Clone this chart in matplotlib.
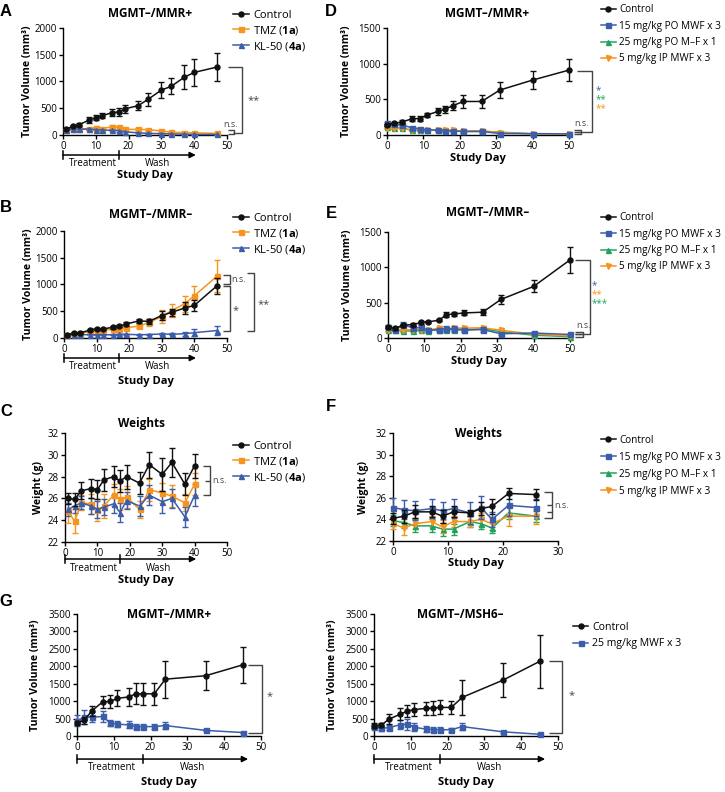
import numpy as np
import matplotlib
matplotlib.use('Agg')
import matplotlib.pyplot as plt
from matplotlib.lines import Line2D

plt.rcParams['font.family'] = ['Open Sans', 'DejaVu Sans']
plt.rcParams['mathtext.fontset'] = 'custom'
plt.rcParams['mathtext.bf'] = 'Open Sans:bold'
plt.rcParams['mathtext.rm'] = 'Open Sans'

BLACK = '#111111'
ORANGE = '#F7941D'
BLUE = '#3C5DAA'
GREEN = '#1FA35C'
GREY = '#444444'

# ---------------- data ----------------
# A / B / C: KL-50 vs TMZ
days_abc = [1, 3, 5, 8, 10, 12, 15, 17, 19, 23, 26, 30, 33, 37, 40, 47]

a_ctrl = [110, 165, 195, 280, 320, 360, 420, 430, 490, 550, 670, 840, 910, 1080, 1170, 1270]
a_ctrl_err = [20, 20, 20, 50, 45, 50, 60, 70, 70, 90, 120, 150, 150, 220, 250, 260]
a_tmz = [100, 110, 110, 120, 135, 120, 155, 145, 105, 105, 100, 75, 50, 45, 40, 30]
a_tmz_err = [15, 15, 15, 20, 20, 20, 25, 25, 20, 20, 20, 15, 10, 10, 10, 10]
a_kl = [100, 110, 110, 110, 100, 90, 90, 80, 60, 40, 30, 25, 20, 15, 10, 10]
a_kl_err = [15, 15, 15, 15, 15, 15, 15, 15, 10, 10, 10, 8, 8, 5, 5, 5]

b_ctrl = [60, 90, 95, 150, 175, 170, 200, 225, 260, 320, 310, 420, 480, 560, 610, 980]
b_ctrl_err = [15, 15, 15, 20, 20, 20, 25, 25, 30, 40, 50, 80, 70, 110, 100, 150]
b_tmz = [55, 80, 90, 120, 140, 140, 170, 175, 195, 220, 290, 400, 510, 640, 790, 1160]
b_tmz_err = [15, 15, 15, 20, 20, 20, 25, 25, 30, 40, 60, 120, 120, 150, 190, 300]
b_kl = [60, 65, 65, 60, 60, 60, 60, 70, 70, 60, 65, 75, 70, 80, 100, 140]
b_kl_err = [10, 10, 10, 10, 10, 10, 10, 10, 10, 10, 10, 20, 15, 40, 70, 90]

days_c = [1, 3, 5, 8, 10, 12, 15, 17, 19, 23, 26, 30, 33, 37, 40]
c_ctrl = [26.0, 25.9, 26.7, 26.9, 26.8, 27.7, 28.0, 27.6, 28.0, 27.4, 29.1, 28.2, 29.3, 27.3, 29.0]
c_ctrl_err = [0.5, 0.6, 0.8, 0.9, 0.9, 1.0, 1.0, 1.0, 1.1, 1.0, 1.2, 1.5, 1.3, 1.0, 1.1]
c_tmz = [24.8, 23.9, 25.6, 25.5, 24.9, 25.3, 26.3, 25.9, 26.1, 25.0, 26.8, 26.5, 26.2, 25.6, 27.3]
c_tmz_err = [1.1, 1.1, 0.7, 0.9, 1.0, 1.1, 1.0, 1.0, 1.0, 0.8, 1.0, 0.9, 1.0, 0.8, 1.0]
c_kl = [25.0, 25.3, 25.6, 25.3, 25.0, 25.2, 25.5, 24.7, 25.8, 25.3, 26.3, 25.7, 26.0, 24.3, 26.3]
c_kl_err = [0.6, 0.6, 0.6, 0.7, 0.8, 0.7, 0.8, 0.9, 0.8, 0.9, 0.9, 1.0, 0.9, 0.9, 1.0]

# D / E / F: dosing schedules
days_def = [0, 2, 4, 7, 9, 11, 14, 16, 18, 21, 26, 31, 40, 50]
d_ctrl = [140, 165, 180, 230, 230, 280, 330, 360, 410, 470, 470, 630, 770, 910]
d_ctrl_err = [20, 20, 25, 40, 40, 30, 50, 50, 60, 90, 90, 110, 130, 150]
d_po15 = [170, 150, 140, 100, 90, 70, 70, 60, 55, 50, 50, 20, 20, 15]
d_po25 = [110, 100, 95, 65, 65, 70, 70, 65, 60, 50, 50, 40, 15, 10]
d_ip5 = [100, 95, 95, 70, 70, 70, 70, 70, 65, 55, 60, 35, 15, 10]

e_ctrl = [150, 135, 180, 190, 220, 230, 250, 330, 340, 355, 365, 545, 730, 1105]
e_ctrl_err = [15, 15, 20, 20, 15, 15, 15, 35, 30, 35, 40, 70, 85, 180]
e_po15 = [160, 120, 190, 140, 150, 110, 120, 130, 130, 110, 120, 60, 70, 50]
e_po15_err = [20, 15, 40, 30, 40, 20, 20, 40, 40, 30, 40, 15, 20, 10]
e_po25 = [110, 110, 100, 100, 110, 100, 120, 120, 115, 120, 130, 90, 40, 20]
e_ip5 = [120, 115, 110, 120, 120, 110, 140, 130, 140, 140, 145, 110, 55, 30]

days_f = [0, 2, 4, 7, 9, 11, 14, 16, 18, 21, 26]
f_ctrl = [24.1, 24.3, 24.7, 24.7, 24.3, 24.7, 24.6, 25.0, 25.2, 26.4, 26.3]
f_ctrl_err = [0.5, 0.6, 0.6, 0.5, 0.6, 0.5, 0.3, 0.6, 0.7, 0.5, 0.5]
f_po15 = [25.1, 24.9, 24.8, 25.0, 24.8, 25.0, 24.6, 25.1, 24.0, 25.3, 25.1]
f_po15_err = [0.9, 0.9, 0.9, 0.9, 0.8, 0.9, 1.0, 1.1, 0.7, 1.0, 0.8]
f_po25 = [23.9, 23.7, 23.4, 23.4, 23.1, 23.1, 23.8, 23.6, 23.2, 24.6, 24.3]
f_po25_err = [0.5, 0.5, 0.6, 0.6, 0.6, 0.5, 0.5, 0.5, 0.5, 0.6, 0.5]
f_ip5 = [23.6, 23.2, 23.6, 23.8, 23.3, 23.8, 23.8, 24.0, 23.6, 24.3, 24.3]
f_ip5_err = [0.5, 0.6, 0.5, 0.5, 0.6, 0.5, 0.5, 0.6, 0.6, 0.9, 0.7]

# G: PDX models
days_g = [0, 2, 4, 7, 9, 11, 14, 16, 18, 21, 24, 35, 45]
g1_ctrl = [370, 450, 720, 980, 990, 1080, 1120, 1210, 1210, 1210, 1630, 1730, 2040]
g1_ctrl_err = [60, 100, 150, 180, 200, 230, 270, 300, 310, 310, 530, 410, 510]
g1_kl = [440, 540, 540, 560, 370, 340, 320, 270, 270, 270, 300, 160, 100]
g1_kl_err = [150, 200, 150, 150, 90, 90, 100, 80, 70, 80, 100, 30, 20]
g2_ctrl = [300, 310, 480, 620, 710, 760, 790, 800, 820, 820, 1110, 1600, 2140]
g2_ctrl_err = [60, 60, 150, 170, 170, 180, 180, 190, 200, 180, 500, 490, 760]
g2_kl = [270, 220, 240, 320, 340, 250, 200, 180, 180, 180, 270, 120, 50]
g2_kl_err = [80, 70, 80, 130, 160, 110, 80, 70, 70, 60, 110, 20, 15]

# ---------------- figure ----------------
W, H = 725, 792
fig = plt.figure(figsize=(W / 100, H / 100), dpi=100)


def make_ax(x0, x1, y0, y1):
    # pixel box -> figure fraction
    ax = fig.add_axes([x0 / W, 1 - y1 / H, (x1 - x0) / W, (y1 - y0) / H])
    ax.spines['top'].set_visible(False)
    ax.spines['right'].set_visible(False)
    for s in ['left', 'bottom']:
        ax.spines[s].set_linewidth(1.0)
    ax.tick_params(labelsize=7, length=3, width=1, pad=1.5)
    return ax


def series(ax, x, y, err, color, marker, label, ms=3.6, z=3):
    ax.errorbar(x, y, yerr=err, color=color, marker=marker, ms=ms, lw=1.1,
                capsize=2.5, elinewidth=1, capthick=1, clip_on=False, zorder=z)
    # legend proxy: line + marker only
    return Line2D([], [], color=color, marker=marker, ms=ms, lw=1.1, label=label)


def legend(ax, handles, px, py, fs=8, sp=0.25):
    ax.legend(handles=handles, loc='upper left',
              bbox_to_anchor=(px / W, 1 - (py - 6) / H),
              bbox_transform=fig.transFigure, frameon=False, fontsize=fs,
              borderpad=0, borderaxespad=0, handlelength=1.45,
              handletextpad=0.35, labelspacing=sp)


def labels(ax, title, tx, ty, ylab, yx, xlab_y):
    ax.text(tx, ty, title, transform=ax.transAxes, ha='center', va='center',
            fontsize=8.5, fontweight='bold')
    ax.text(yx, 0.5, ylab, transform=ax.transAxes, rotation=90, ha='center',
            va='center', fontsize=7.6, fontweight='bold')
    ax.text(0.5, xlab_y, 'Study Day', transform=ax.transAxes, ha='center',
            va='center', fontsize=8, fontweight='bold')


def timeline(ax, yline, ytext, xdiv, xend, xtreat, xwash):
    tr = ax.get_xaxis_transform()
    ax.annotate('', xy=(xend, yline), xytext=(0, yline), xycoords=tr,
                textcoords=tr, annotation_clip=False,
                arrowprops=dict(arrowstyle='-|>', color='black', lw=1.1,
                                shrinkA=0, shrinkB=0, mutation_scale=9))
    for xv in [0, xdiv]:
        ax.plot([xv, xv], [yline - 0.035, yline + 0.035], color='black', lw=1.1,
                transform=tr, clip_on=False)
    ax.text(xtreat, ytext, 'Treatment', transform=tr, ha='center', va='center', fontsize=7)
    ax.text(xwash, ytext, 'Wash', transform=tr, ha='center', va='center', fontsize=7)


def path(ax, xs, ys, color=GREY):
    ax.plot(xs, ys, color=color, lw=1.0, clip_on=False, solid_capstyle='butt')


def star(ax, x, y, s, color=GREY, size=8):
    ax.text(x, y, s, ha='left', va='center', fontsize=size, color=color,
            linespacing=1.0)


lab_tmz = 'TMZ ($\\bf{1a}$)'
lab_kl = 'KL-50 ($\\bf{4a}$)'
lab15 = '15 mg/kg PO MWF x 3'
lab25 = '25 mg/kg PO M\u2013F x 1'
lab5 = '5 mg/kg IP MWF x 3'
tv_label = 'Tumor Volume (mm\u00b3)'

# ---- A ----
ax = make_ax(63, 227, 28, 135)
h = [series(ax, days_abc, a_ctrl, a_ctrl_err, BLACK, 'o', 'Control', z=4),
     series(ax, days_abc, a_tmz, a_tmz_err, ORANGE, 's', lab_tmz),
     series(ax, days_abc, a_kl, a_kl_err, BLUE, '^', lab_kl)]
ax.set_xlim(0, 50)
ax.set_ylim(0, 2000)
ax.set_xticks([0, 10, 20, 30, 40, 50])
ax.set_yticks([0, 500, 1000, 1500, 2000])
legend(ax, h, 233, 16)
labels(ax, 'MGMT\u2013/MMR+', 0.53, 1.14, tv_label, -0.215, -0.374)
timeline(ax, -0.187, -0.27, 17, 40.5, 9, 28.7)
path(ax, [50.3, 54.6, 54.6, 51.8], [1270, 1270, 35, 35])
path(ax, [50.3, 52.2, 52.2, 50.3], [85, 85, 20, 20])
ax.text(51.2, 200, 'n.s.', ha='center', va='center', fontsize=6.5, color=GREY)
star(ax, 56.3, 650, '**')

# ---- B ----
ax = make_ax(64, 227, 231, 338)
h = [series(ax, days_abc, b_ctrl, b_ctrl_err, BLACK, 'o', 'Control', z=4),
     series(ax, days_abc, b_tmz, b_tmz_err, ORANGE, 's', lab_tmz),
     series(ax, days_abc, b_kl, b_kl_err, BLUE, '^', lab_kl)]
ax.set_xlim(0, 50)
ax.set_ylim(0, 2000)
ax.set_xticks([0, 10, 20, 30, 40, 50])
ax.set_yticks([0, 500, 1000, 1500, 2000])
legend(ax, h, 233, 219)
labels(ax, 'MGMT\u2013/MMR\u2013', 0.53, 1.15, tv_label, -0.215, -0.41)
timeline(ax, -0.187, -0.27, 17, 40.5, 9, 28.7)
path(ax, [48.8, 50.8, 50.8, 48.8], [1180, 1180, 1010, 1010])
ax.text(51.3, 1095, 'n.s.', ha='left', va='center', fontsize=6.5, color=GREY)
path(ax, [48.8, 50.8, 50.8, 48.8], [975, 975, 130, 130])
star(ax, 51.8, 520, '*')
path(ax, [56.2, 58.3, 58.3, 56.2], [1215, 1215, 130, 130])
star(ax, 59.3, 620, '**')

# ---- C ----
ax = make_ax(65, 227, 433, 542)
h = [series(ax, days_c, c_ctrl, c_ctrl_err, BLACK, 'o', 'Control', z=4),
     series(ax, days_c, c_tmz, c_tmz_err, ORANGE, 's', lab_tmz),
     series(ax, days_c, c_kl, c_kl_err, BLUE, '^', lab_kl)]
ax.set_xlim(0, 50)
ax.set_ylim(22, 32)
ax.set_xticks([0, 10, 20, 30, 40, 50])
ax.set_yticks([22, 24, 26, 28, 30, 32])
legend(ax, h, 233, 447)
labels(ax, 'Weights', 0.47, 1.09, 'Weight (g)', -0.165, -0.35)
timeline(ax, -0.156, -0.24, 17, 40.5, 9, 28.7)
path(ax, [42.6, 44.6, 44.6, 42.6], [29.0, 29.0, 26.3, 26.3])
path(ax, [43.3, 44.6], [27.6, 27.6])
ax.text(45.3, 27.6, 'n.s.', ha='left', va='center', fontsize=6.5, color=GREY)

# ---- D ----
ax = make_ax(387, 569, 28, 135)
h = [series(ax, days_def, d_ctrl, d_ctrl_err, BLACK, 'o', 'Control', z=5),
     series(ax, days_def, d_po15, [15] * 14, BLUE, 's', lab15, z=4),
     series(ax, days_def, d_po25, [10] * 14, GREEN, '^', lab25),
     series(ax, days_def, d_ip5, [10] * 14, ORANGE, 'v', lab5)]
ax.set_xlim(0, 50)
ax.set_ylim(0, 1500)
ax.set_xticks([0, 10, 20, 30, 40, 50])
ax.set_yticks([0, 500, 1000, 1500])
legend(ax, h, 601, 10, fs=7.2, sp=0.55)
labels(ax, 'MGMT\u2013/MMR+', 0.55, 1.14, tv_label, -0.22, -0.224)
path(ax, [52.2, 56.3, 56.3, 52.2], [900, 900, 42, 42])
path(ax, [51.3, 53.4, 53.4, 51.3], [72, 72, 12, 12])
path(ax, [51.3, 53.4], [42, 42])
ax.text(53.4, 160, 'n.s.', ha='center', va='center', fontsize=6.5, color=GREY)
star(ax, 57.2, 625, '*', BLUE, 7)
star(ax, 57.2, 500, '**', GREEN, 7)
star(ax, 57.2, 375, '**', ORANGE, 7)

# ---- E ----
ax = make_ax(388, 570, 232, 338)
h = [series(ax, days_def, e_ctrl, e_ctrl_err, BLACK, 'o', 'Control', z=5),
     series(ax, days_def, e_po15, e_po15_err, BLUE, 's', lab15, z=4),
     series(ax, days_def, e_po25, [15] * 14, GREEN, '^', lab25),
     series(ax, days_def, e_ip5, [15] * 14, ORANGE, 'v', lab5)]
ax.set_xlim(0, 50)
ax.set_ylim(0, 1500)
ax.set_xticks([0, 10, 20, 30, 40, 50])
ax.set_yticks([0, 500, 1000, 1500])
legend(ax, h, 601, 218, fs=7.2, sp=0.55)
labels(ax, 'MGMT\u2013/MMR\u2013', 0.55, 1.18, tv_label, -0.22, -0.217)
path(ax, [51.4, 55.5, 55.5, 51.4], [1110, 1110, 57, 57])
path(ax, [51.4, 53.6, 53.6, 51.4], [90, 90, 20, 20])
path(ax, [51.4, 53.6], [57, 57])
ax.text(53.6, 170, 'n.s.', ha='center', va='center', fontsize=6.5, color=GREY)
star(ax, 56.0, 735, '*', BLUE, 7)
star(ax, 56.0, 608, '**', ORANGE, 7)
star(ax, 56.0, 481, '***', GREEN, 7)

# ---- F ----
ax = make_ax(393, 558, 433, 541)
h = [series(ax, days_f, f_ctrl, f_ctrl_err, BLACK, 'o', 'Control', z=5),
     series(ax, days_f, f_po15, f_po15_err, BLUE, 's', lab15, z=4),
     series(ax, days_f, f_po25, f_po25_err, GREEN, '^', lab25),
     series(ax, days_f, f_ip5, f_ip5_err, ORANGE, 'v', lab5)]
ax.set_xlim(0, 30)
ax.set_ylim(22, 32)
ax.set_xticks([0, 10, 20, 30])
ax.set_yticks([22, 24, 26, 28, 30, 32])
legend(ax, h, 601, 441, fs=7.2, sp=0.6)
labels(ax, 'Weights', 0.52, 1.0, 'Weight (g)', -0.18, -0.204)
path(ax, [27.4, 28.9, 28.9, 27.4], [26.5, 26.5, 24.1, 24.1])
path(ax, [28.0, 28.9], [25.3, 25.3])
path(ax, [28.0, 28.9], [24.7, 24.7])
ax.text(29.3, 25.3, 'n.s.', ha='left', va='center', fontsize=6.5, color=GREY)

# ---- G left ----
ax = make_ax(77, 261, 614, 736)
series(ax, days_g, g1_ctrl, g1_ctrl_err, BLACK, 'o', 'Control', z=4)
series(ax, days_g, g1_kl, g1_kl_err, BLUE, 's', '25 mg/kg MWF x 3')
ax.set_xlim(0, 50)
ax.set_ylim(0, 3500)
ax.set_xticks([0, 10, 20, 30, 40, 50])
ax.set_yticks(np.arange(0, 3501, 500))
labels(ax, 'MGMT\u2013/MMR+', 0.5, 1.0, tv_label, -0.228, -0.385)
timeline(ax, -0.189, -0.262, 18, 46.5, 9.5, 31.5)
path(ax, [46.5, 50.2, 50.2, 46.5], [2040, 2040, 90, 90])
star(ax, 51.6, 1120, '*')

# ---- G right ----
ax = make_ax(374, 558, 614, 736)
h = [series(ax, days_g, g2_ctrl, g2_ctrl_err, BLACK, 'o', 'Control', z=4),
     series(ax, days_g, g2_kl, g2_kl_err, BLUE, 's', '25 mg/kg MWF x 3')]
ax.set_xlim(0, 50)
ax.set_ylim(0, 3500)
ax.set_xticks([0, 10, 20, 30, 40, 50])
ax.set_yticks(np.arange(0, 3501, 500))
legend(ax, h, 573, 628, fs=7.6, sp=0.5)
labels(ax, 'MGMT\u2013/MSH6\u2013', 0.47, 1.0, tv_label, -0.228, -0.385)
timeline(ax, -0.189, -0.262, 18, 46.5, 9.5, 31.5)
path(ax, [47.6, 51.1, 51.1, 47.6], [2150, 2150, 86, 86])
star(ax, 52.8, 1150, '*')

# panel letters
for letter, px, py in [('A', 6, 12), ('B', 6, 208), ('C', 6, 412),
                       ('D', 331, 12), ('E', 331, 213), ('F', 331, 407),
                       ('G', 6, 602)]:
    fig.text(px / W, 1 - py / H, letter, ha='center', va='center',
             fontsize=12, fontweight='bold',
             family=['Liberation Sans Narrow', 'Liberation Sans', 'DejaVu Sans'])

fig.savefig('out.png', dpi=100)
